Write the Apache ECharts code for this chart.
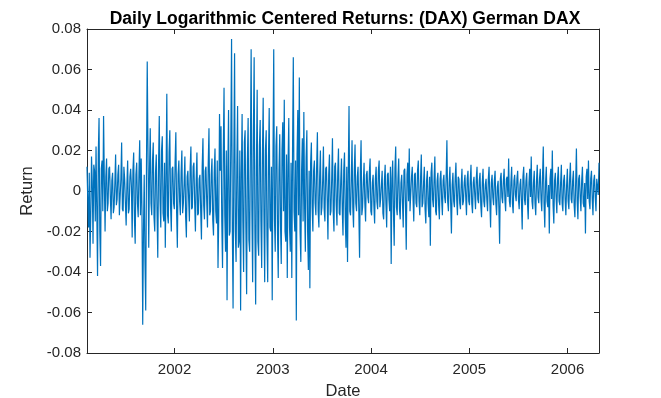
<!DOCTYPE html>
<html>
<head>
<meta charset="utf-8">
<script src="https://cdn.jsdelivr.net/npm/echarts@6/dist/echarts.min.js"></script>
<style>
  html, body { margin: 0; padding: 0; background: #fff; }
  #returnsChart { width: 661px; height: 398px; }
</style>
</head>
<body>
<div id="returnsChart"></div>
<script>
// date range shown on the x axis (decimal years)
var firstDay = 2001.109;
var lastDay = 2006.32;
var yearTicks = [2002, 2003, 2004, 2005, 2006];

// daily centered log returns
var returnsEarly2001 = [0.012, -0.004, -0.018, 0.009, -0.033, -0.012, 0.017, 0.004, -0.026, 0.013,
  0.01, -0.015, 0.022, -0.009, -0.042, 0.018, 0.036, -0.02, -0.037, 0.011, 0.015, -0.01, 0.037, 0.006,
  -0.02, 0.007, 0.016, -0.01, -0.006, 0.011, 0.012, -0.003, -0.014, 0.005, 0.009, -0.011,
  -0.008, 0.004, 0.018, -0.007, -0.004, 0.008, 0.013, -0.012, -0.012, 0.006, 0.024, -0.009,
  -0.01, 0.012, 0.006, -0.006, -0.017, 0.003, 0.015, -0.011, -0.009, 0.007, 0.011, 0.002,
  -0.023, 0.01, 0.019, -0.014, -0.026, 0.008, 0.014, -0.006, -0.013, 0.009, 0.025, -0.012];
var returnsSept2001 = [0.016, -0.01, -0.066, -0.02, 0.008, -0.035, -0.059, 0.012, 0.064, 0.02, -0.028, 0.01,
  0.031, -0.006, -0.012, 0.015, 0.024, -0.013, -0.02, 0.009, 0.018, -0.01, -0.033, 0.012, 0.037, -0.005,
  -0.018, 0.02, 0.027, -0.011, -0.015, 0.014, -0.028, 0.006, 0.048, -0.012, -0.016, 0.019, 0.03, -0.008,
  -0.02, 0.011];
var returns2002a = [0.012, -0.006, -0.009, 0.014, 0.029, -0.01, -0.028, 0.008, 0.015, -0.005,
  -0.012, 0.009, 0.02, -0.011, -0.006, 0.004, 0.017, -0.013, -0.023, 0.007,
  0.01, -0.004, -0.015, 0.011, 0.022, -0.009, -0.008, 0.012, 0.014, -0.006,
  -0.02, 0.005, 0.019, -0.012, -0.011, 0.006, 0.008, -0.01, -0.024, 0.012,
  0.026, -0.007, -0.014, 0.01, 0.012, -0.005, -0.018, 0.013, 0.031, -0.012,
  -0.01, 0.008, 0.016, -0.014, -0.022, 0.009, 0.021, -0.01, -0.016, 0.015, -0.038, -0.012, 0.038, 0.01];
var returnsCrash = [0.032, -0.015, -0.038, 0.018, 0.051, -0.012, -0.03, 0.02, -0.054, 0.01,
  0.04, -0.022, -0.02, 0.025, 0.075, -0.018, -0.058, 0.015, 0.068, -0.02,
  -0.035, 0.012, 0.042, -0.028, -0.025, 0.02, -0.059, 0.008, 0.038, -0.015,
  -0.04, 0.024, 0.03, -0.018, -0.051, 0.014, 0.036, -0.024, -0.03, 0.019,
  0.07, -0.01, -0.045, 0.028, 0.066, -0.02, -0.056, 0.012, 0.05, -0.025,
  -0.032, 0.022, 0.035, -0.015, -0.038, 0.018, 0.046, -0.012, -0.045, 0.02,
  0.03, -0.022, -0.045, 0.015, 0.041, -0.018, -0.02, 0.012, -0.054, 0.016,
  0.07, -0.014, -0.03, 0.022, 0.032, -0.02, -0.043, 0.01, 0.028, -0.016,
  -0.036, 0.02, 0.034, -0.01, 0.045, -0.02, -0.025, 0.018, -0.043, 0.012,
  0.036, -0.018, -0.03, 0.014, -0.043, 0.02, 0.066, -0.01, -0.02, 0.015,
  -0.064, 0.018, 0.04, -0.012, 0.056, -0.02, -0.035, 0.01, 0.026, -0.015,
  0.039, -0.008, -0.03, 0.016, 0.03, -0.02, -0.039, 0.01, -0.048, 0.014];
var returns2003 = [0.024, -0.008, -0.02, 0.01, 0.015, -0.006, -0.012, 0.012, 0.029, -0.01,
  -0.018, 0.007, 0.02, -0.012, -0.008, 0.005, 0.022, -0.009, -0.015, 0.011,
  0.012, -0.004, -0.024, 0.008, 0.018, -0.012, -0.01, 0.006, 0.026, -0.01,
  -0.02, 0.012, 0.014, -0.007, -0.017, 0.009, 0.021, -0.011, -0.012, 0.005,
  0.016, -0.009, -0.022, 0.01, 0.019, -0.013, -0.028, 0.012, -0.035, 0.008, 0.042, -0.01];
var returns2004 = [-0.012, 0.005, 0.025, -0.008, -0.018, 0.01, 0.023, -0.006, -0.01, 0.007,
  0.012, -0.01, -0.033, 0.009, 0.025, -0.012, -0.008, 0.004, 0.014, -0.006,
  -0.015, 0.008, 0.01, -0.003, -0.006, 0.009, 0.016, -0.01, -0.012, 0.004,
  0.008, -0.007, -0.016, 0.006, 0.012, -0.005, -0.009, 0.01, 0.015, -0.008,
  -0.004, 0.003, 0.01, -0.011, -0.014, 0.005, 0.013, -0.006, -0.018, 0.008,
  0.009, -0.004, -0.01, 0.012, -0.036, 0.006, 0.015, -0.01, -0.027, 0.011,
  0.022, -0.008, -0.012, 0.006, 0.016, -0.009, -0.014, 0.004, 0.008, -0.006,
  -0.018, 0.01, 0.011, -0.007, -0.029, 0.008, 0.014, -0.005, 0.021, -0.01,
  -0.01, 0.007, 0.012, -0.004, -0.015, 0.008, 0.009, -0.006, -0.008, 0.01,
  0.015, -0.005, -0.012, 0.006, 0.018, -0.008, -0.006, 0.004, 0.012, -0.009,
  -0.016, 0.005, 0.01, -0.006, -0.013, 0.007, -0.027, 0.009, 0.014, -0.004,
  -0.008, 0.006, 0.017, -0.01, -0.012, 0.005, 0.009, -0.007, -0.014, 0.006];
var returns2005 = [0.01, -0.004, -0.012, 0.005, 0.008, -0.003, -0.006, 0.007, 0.025, -0.005,
  -0.01, 0.004, 0.012, -0.006, -0.021, 0.003, 0.009, -0.005, -0.008, 0.006,
  0.014, -0.004, -0.012, 0.007, 0.006, -0.006, -0.009, 0.003, 0.011, -0.007,
  -0.005, 0.004, 0.008, -0.003, -0.012, 0.006, 0.01, -0.005, -0.007, 0.005,
  0.013, -0.006, -0.011, 0.004, 0.007, -0.002, -0.009, 0.006, 0.012, -0.004,
  -0.006, 0.005, 0.009, -0.007, -0.013, 0.004, 0.011, -0.005, -0.008, 0.003,
  0.006, -0.004, -0.01, 0.006, 0.012, -0.005, -0.018, 0.004, 0.008, -0.003,
  -0.007, 0.005, 0.01, -0.006, -0.012, 0.002, 0.005, -0.008, -0.026, 0.006,
  0.009, -0.003, -0.006, 0.005, 0.011, -0.004, -0.01, 0.006, 0.007, -0.003,
  0.016, -0.005, -0.008, 0.004, 0.012, -0.006, -0.011, 0.005, 0.008, -0.002,
  -0.005, 0.006, 0.01, -0.004, -0.009, 0.003, 0.006, -0.005, -0.019, 0.007,
  0.012, -0.004, -0.007, 0.005, 0.009, -0.006, -0.014, 0.004, 0.011, -0.003];
var returns2006 = [0.017, -0.005, -0.009, 0.004, 0.01, -0.006, -0.012, 0.005, 0.013, -0.003,
  -0.006, 0.006, 0.011, -0.004, -0.01, 0.007, 0.022, -0.006, -0.018, 0.004,
  0.012, -0.005, -0.008, 0.003, -0.021, 0.006, 0.011, -0.004, 0.02, -0.007,
  -0.016, 0.005, 0.009, -0.003, -0.011, 0.006, 0.012, -0.005, -0.007, 0.004,
  0.013, -0.006, -0.01, 0.005, 0.008, -0.004, -0.012, 0.003, 0.011, -0.005,
  -0.009, 0.006, 0.014, -0.004, -0.006, 0.005, 0.01, -0.007, -0.013, 0.004,
  0.021, -0.005, -0.014, 0.006, 0.008, -0.003, -0.01, 0.005, 0.012, -0.006,
  -0.008, 0.004, -0.021, 0.007, 0.011, -0.004, 0.015, -0.005, -0.009, 0.006,
  0.01, -0.004, -0.012, 0.005, 0.008, -0.003, -0.01, 0.006, 0.006, -0.002, 0.014];

var returns = [].concat(returnsEarly2001, returnsSept2001, returns2002a, returnsCrash,
  returns2003, returns2004, returns2005, returns2006);

// trading days spread evenly over the date range
var seriesData = returns.map(function (r, i) {
  return [firstDay + i * (lastDay - firstDay) / (returns.length - 1), r];
});

var ink = '#262626';
var chart = echarts.init(document.getElementById('returnsChart'));

var option = {
  backgroundColor: '#ffffff',
  animation: false,
  title: {
    text: 'Daily Logarithmic Centered Returns: (DAX) German DAX',
    left: 340,
    textAlign: 'center',
    top: 5,
    textStyle: { fontFamily: 'Liberation Sans', fontSize: 17.5, fontWeight: 'bold', color: '#000' }
  },
  grid: { left: 87, right: 62, top: 29, bottom: 45, outerBoundsMode: 'none', containLabel: false },
  xAxis: [
    {
      type: 'value',
      min: firstDay,
      max: lastDay,
      position: 'bottom',
      name: 'Date',
      nameLocation: 'middle',
      nameGap: 30,
      nameTextStyle: { fontFamily: 'Liberation Sans', fontSize: 16.5, color: ink },
      axisLine: { onZero: false, lineStyle: { color: ink, width: 1 } },
      axisTick: { inside: true, length: 5, customValues: yearTicks, lineStyle: { color: ink } },
      axisLabel: {
        customValues: yearTicks,
        margin: 9,
        fontFamily: 'Liberation Sans',
        fontSize: 15,
        color: ink,
        formatter: function (v) { return String(Math.round(v)); }
      },
      splitLine: { show: false }
    },
    {
      type: 'value',
      min: firstDay,
      max: lastDay,
      position: 'top',
      axisLine: { onZero: false, lineStyle: { color: ink, width: 1 } },
      axisTick: { inside: true, length: 5, customValues: yearTicks, lineStyle: { color: ink } },
      axisLabel: { show: false },
      splitLine: { show: false }
    }
  ],
  yAxis: [
    {
      type: 'value',
      min: -0.08,
      max: 0.08,
      interval: 0.02,
      position: 'left',
      name: 'Return',
      nameLocation: 'middle',
      nameGap: 43,
      nameTextStyle: { fontFamily: 'Liberation Sans', fontSize: 16.5, color: ink },
      axisLine: { show: true, onZero: false, lineStyle: { color: ink, width: 1 } },
      axisTick: { show: true, inside: true, length: 5, lineStyle: { color: ink } },
      axisLabel: {
        margin: 6,
        fontFamily: 'Liberation Sans',
        fontSize: 15,
        color: ink,
        formatter: function (v) { return String(Number(v.toFixed(2))); }
      },
      splitLine: { show: false }
    },
    {
      type: 'value',
      min: -0.08,
      max: 0.08,
      interval: 0.02,
      position: 'right',
      axisLine: { show: true, onZero: false, lineStyle: { color: ink, width: 1 } },
      axisTick: { show: true, inside: true, length: 5, lineStyle: { color: ink } },
      axisLabel: { show: false },
      splitLine: { show: false }
    }
  ],
  series: [
    {
      name: 'Return',
      type: 'line',
      xAxisIndex: 0,
      yAxisIndex: 0,
      symbol: 'none',
      data: seriesData,
      lineStyle: { color: '#0072BD', width: 1.2 }
    }
  ]
};

chart.setOption(option);
</script>
</body>
</html>
